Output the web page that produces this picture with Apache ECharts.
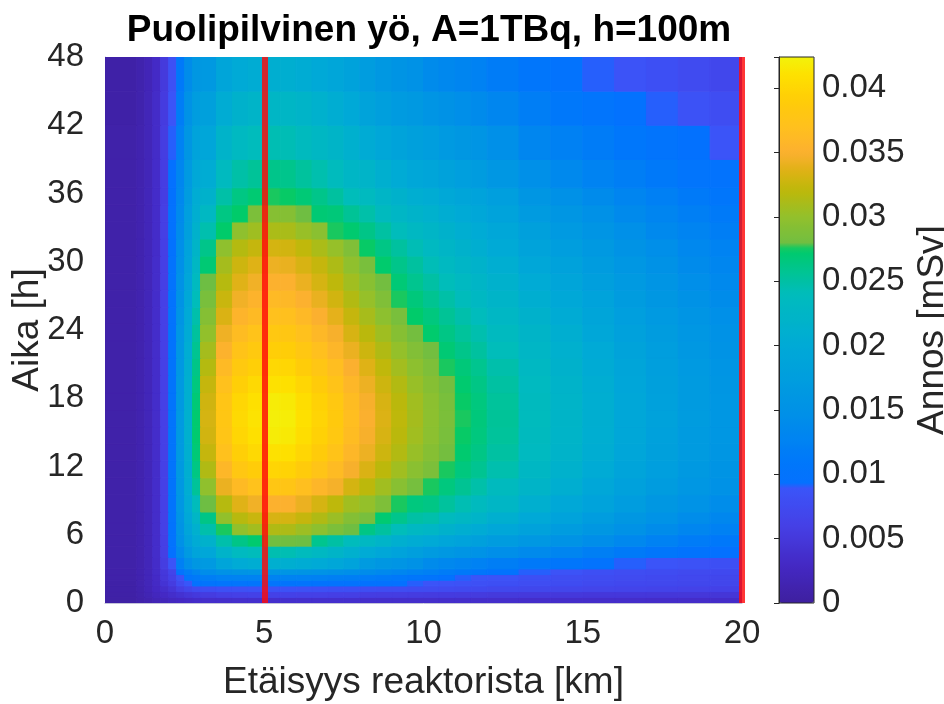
<!DOCTYPE html>
<html>
<head>
<meta charset="utf-8">
<title>Puolipilvinen yö</title>
<script src="https://cdn.jsdelivr.net/npm/echarts@6/dist/echarts.min.js"></script>
<style>
  html, body { margin: 0; padding: 0; background: #fff; }
  #main { width: 944px; height: 704px; }
</style>
</head>
<body>
<div id="main"></div>
<script>
// cell edges of the dose field
var xEdges = [0, 1, 1.25, 1.5, 1.75, 2, 2.25, 2.5, 2.75, 3, 3.5, 4, 4.5, 5, 5.5, 6, 6.5, 7, 7.5, 8,
              8.5, 9, 9.5, 10, 10.5, 11, 11.5, 12, 13, 14, 15, 16, 17, 18, 19, 20]; // km
var tEdges = [0, 0.5, 1, 1.5, 2, 2.5, 3, 4, 5, 6, 7, 8, 9.5, 11, 12.5, 14, 15.5, 17, 18.5, 20,
              21.5, 23, 24.5, 26, 27.5, 29, 30.5, 32, 33.5, 35, 36.5, 39, 42, 45, 48]; // h

// dose per cell [mSv]
// one row per time cell (from t=0 up), one value per distance cell (from x=0 out)
var doseRows = [
  [.0005,.0009,.0013,.0018,.0022,.0026,.0029,.0032,.0034,.0036,.0037,.0038,.0038,.0038,.0038,.0038,.0038,.0038,.0038,.0037,.0037,.0037,.0037,.0036,.0036,.0036,.0036,.0036,.0035,.0035,.0035,.0035,.0034,.0034,.0034],
  [.0006,.0011,.0017,.0024,.0030,.0036,.0042,.0047,.0051,.0055,.0058,.0060,.0061,.0061,.0061,.0060,.0060,.0059,.0058,.0057,.0056,.0056,.0055,.0054,.0054,.0053,.0053,.0052,.0051,.0050,.0049,.0049,.0048,.0048,.0047],
  [.0007,.0012,.0019,.0029,.0037,.0046,.0058,.0068,.0075,.0080,.0083,.0084,.0085,.0085,.0085,.0084,.0083,.0082,.0081,.0080,.0079,.0078,.0077,.0076,.0075,.0074,.0073,.0071,.0070,.0068,.0067,.0066,.0065,.0063,.0062],
  [.0007,.0013,.0020,.0031,.0044,.0055,.0075,.0090,.0097,.0101,.0103,.0104,.0104,.0103,.0102,.0101,.0100,.0099,.0098,.0097,.0096,.0094,.0091,.0089,.0087,.0085,.0083,.0081,.0078,.0076,.0074,.0072,.0071,.0070,.0068],
  [.0008,.0013,.0021,.0032,.0048,.0062,.0087,.0103,.0112,.0120,.0124,.0126,.0127,.0127,.0126,.0125,.0123,.0121,.0119,.0116,.0113,.0110,.0106,.0101,.0096,.0091,.0089,.0086,.0082,.0079,.0077,.0075,.0073,.0072,.0070],
  [.0008,.0014,.0021,.0033,.0050,.0066,.0098,.0118,.0130,.0142,.0150,.0154,.0156,.0157,.0156,.0154,.0151,.0148,.0145,.0141,.0137,.0132,.0127,.0122,.0117,.0112,.0107,.0100,.0091,.0086,.0082,.0079,.0076,.0074,.0073],
  [.0008,.0013,.0021,.0034,.0056,.0089,.0122,.0145,.0162,.0166,.0190,.0202,.0207,.0211,.0210,.0205,.0199,.0193,.0184,.0170,.0162,.0156,.0150,.0140,.0134,.0130,.0125,.0120,.0112,.0105,.0099,.0091,.0088,.0085,.0082],
  [.0008,.0013,.0021,.0035,.0058,.0094,.0138,.0167,.0188,.0193,.0220,.0234,.0240,.0245,.0244,.0238,.0231,.0223,.0213,.0201,.0193,.0185,.0178,.0169,.0163,.0157,.0152,.0145,.0138,.0129,.0121,.0113,.0106,.0100,.0094],
  [.0008,.0013,.0021,.0035,.0059,.0098,.0148,.0182,.0203,.0216,.0247,.0262,.0272,.0280,.0280,.0278,.0259,.0250,.0239,.0231,.0221,.0212,.0204,.0199,.0192,.0185,.0179,.0171,.0163,.0153,.0143,.0134,.0125,.0117,.0110],
  [.0008,.0013,.0021,.0035,.0060,.0100,.0153,.0190,.0213,.0247,.0276,.0300,.0308,.0314,.0313,.0305,.0297,.0287,.0279,.0263,.0252,.0241,.0232,.0226,.0217,.0210,.0203,.0194,.0183,.0172,.0161,.0150,.0141,.0132,.0123],
  [.0008,.0013,.0021,.0035,.0060,.0101,.0157,.0196,.0226,.0262,.0300,.0318,.0326,.0333,.0332,.0324,.0314,.0304,.0291,.0284,.0271,.0260,.0250,.0247,.0237,.0229,.0222,.0212,.0198,.0185,.0173,.0162,.0152,.0142,.0133],
  [.0008,.0013,.0021,.0035,.0060,.0101,.0160,.0201,.0240,.0278,.0317,.0337,.0345,.0352,.0351,.0342,.0332,.0321,.0307,.0301,.0288,.0276,.0266,.0263,.0253,.0244,.0236,.0226,.0211,.0197,.0185,.0173,.0162,.0151,.0142],
  [.0008,.0013,.0021,.0035,.0060,.0102,.0163,.0206,.0255,.0299,.0342,.0363,.0372,.0380,.0378,.0369,.0358,.0347,.0331,.0320,.0307,.0294,.0283,.0276,.0266,.0257,.0248,.0237,.0223,.0209,.0195,.0182,.0171,.0160,.0150],
  [.0008,.0013,.0021,.0035,.0060,.0102,.0165,.0210,.0264,.0314,.0359,.0381,.0390,.0399,.0397,.0387,.0376,.0364,.0348,.0334,.0320,.0307,.0295,.0287,.0276,.0266,.0258,.0246,.0230,.0215,.0202,.0188,.0177,.0165,.0154],
  [.0008,.0013,.0021,.0035,.0060,.0102,.0166,.0212,.0269,.0324,.0371,.0393,.0403,.0411,.0410,.0400,.0388,.0375,.0359,.0343,.0328,.0315,.0303,.0293,.0282,.0272,.0263,.0251,.0234,.0220,.0206,.0192,.0180,.0168,.0158],
  [.0008,.0013,.0021,.0035,.0060,.0102,.0166,.0213,.0272,.0330,.0377,.0400,.0410,.0419,.0417,.0407,.0395,.0382,.0365,.0348,.0333,.0319,.0307,.0296,.0285,.0275,.0266,.0254,.0237,.0222,.0208,.0194,.0182,.0170,.0160],
  [.0008,.0013,.0021,.0035,.0060,.0102,.0166,.0213,.0272,.0332,.0380,.0403,.0413,.0422,.0420,.0410,.0398,.0385,.0368,.0350,.0335,.0321,.0309,.0297,.0286,.0276,.0267,.0255,.0238,.0223,.0209,.0195,.0183,.0171,.0160],
  [.0008,.0013,.0021,.0035,.0060,.0102,.0165,.0212,.0269,.0329,.0377,.0400,.0410,.0419,.0417,.0407,.0395,.0382,.0365,.0348,.0333,.0319,.0307,.0296,.0285,.0275,.0266,.0254,.0237,.0222,.0208,.0194,.0182,.0170,.0159],
  [.0008,.0013,.0021,.0035,.0060,.0101,.0164,.0211,.0266,.0324,.0371,.0393,.0403,.0411,.0410,.0400,.0388,.0375,.0359,.0343,.0328,.0315,.0303,.0293,.0282,.0272,.0263,.0251,.0234,.0220,.0206,.0192,.0180,.0168,.0158],
  [.0008,.0013,.0021,.0035,.0060,.0101,.0163,.0209,.0262,.0316,.0362,.0384,.0393,.0402,.0400,.0390,.0379,.0367,.0350,.0336,.0322,.0308,.0297,.0288,.0276,.0268,.0259,.0247,.0232,.0217,.0203,.0190,.0178,.0166,.0156],
  [.0008,.0013,.0021,.0035,.0060,.0100,.0161,.0206,.0258,.0309,.0353,.0375,.0384,.0392,.0391,.0381,.0370,.0358,.0342,.0328,.0314,.0301,.0290,.0281,.0270,.0261,.0252,.0241,.0227,.0213,.0200,.0186,.0175,.0163,.0153],
  [.0008,.0013,.0021,.0035,.0060,.0100,.0159,.0203,.0253,.0300,.0344,.0365,.0374,.0382,.0380,.0371,.0360,.0348,.0333,.0319,.0306,.0293,.0282,.0273,.0263,.0254,.0246,.0235,.0223,.0209,.0195,.0182,.0171,.0160,.0150],
  [.0008,.0013,.0021,.0035,.0060,.0099,.0156,.0200,.0247,.0292,.0334,.0355,.0363,.0371,.0370,.0361,.0350,.0339,.0324,.0310,.0297,.0285,.0274,.0266,.0256,.0247,.0239,.0228,.0217,.0203,.0190,.0177,.0167,.0156,.0146],
  [.0008,.0013,.0021,.0035,.0060,.0099,.0153,.0196,.0241,.0285,.0326,.0345,.0354,.0362,.0360,.0351,.0341,.0330,.0315,.0302,.0289,.0276,.0267,.0258,.0249,.0240,.0232,.0222,.0209,.0196,.0184,.0172,.0161,.0150,.0141],
  [.0008,.0013,.0021,.0035,.0059,.0098,.0150,.0192,.0235,.0278,.0317,.0337,.0345,.0352,.0351,.0342,.0332,.0321,.0307,.0294,.0281,.0269,.0259,.0250,.0241,.0233,.0225,.0215,.0202,.0190,.0178,.0166,.0156,.0145,.0136],
  [.0008,.0013,.0021,.0035,.0059,.0098,.0147,.0188,.0229,.0270,.0309,.0328,.0336,.0343,.0341,.0333,.0324,.0313,.0299,.0285,.0273,.0261,.0252,.0242,.0233,.0225,.0218,.0208,.0195,.0183,.0171,.0160,.0150,.0140,.0131],
  [.0008,.0013,.0021,.0034,.0059,.0097,.0144,.0184,.0223,.0261,.0298,.0316,.0324,.0331,.0330,.0322,.0312,.0302,.0289,.0275,.0263,.0252,.0243,.0233,.0225,.0217,.0210,.0200,.0187,.0175,.0164,.0153,.0144,.0134,.0126],
  [.0008,.0013,.0021,.0034,.0058,.0097,.0141,.0180,.0216,.0246,.0274,.0298,.0306,.0312,.0311,.0303,.0295,.0276,.0272,.0262,.0251,.0240,.0231,.0224,.0216,.0208,.0202,.0193,.0179,.0167,.0157,.0146,.0137,.0128,.0120],
  [.0008,.0013,.0021,.0034,.0058,.0096,.0138,.0176,.0210,.0231,.0264,.0274,.0287,.0293,.0292,.0279,.0270,.0268,.0256,.0248,.0237,.0227,.0219,.0214,.0206,.0199,.0193,.0184,.0169,.0158,.0148,.0138,.0130,.0121,.0114],
  [.0008,.0013,.0021,.0034,.0057,.0095,.0135,.0172,.0204,.0217,.0249,.0264,.0271,.0276,.0275,.0269,.0261,.0252,.0241,.0235,.0225,.0216,.0208,.0205,.0197,.0190,.0184,.0176,.0158,.0148,.0139,.0130,.0122,.0114,.0106],
  [.0008,.0013,.0020,.0034,.0057,.0094,.0131,.0166,.0196,.0205,.0235,.0249,.0255,.0261,.0260,.0253,.0246,.0238,.0227,.0221,.0211,.0202,.0195,.0190,.0183,.0177,.0171,.0160,.0147,.0136,.0127,.0119,.0112,.0104,.0098],
  [.0008,.0013,.0020,.0033,.0056,.0091,.0125,.0158,.0185,.0192,.0220,.0233,.0239,.0244,.0243,.0237,.0230,.0223,.0213,.0203,.0195,.0186,.0180,.0174,.0167,.0161,.0156,.0146,.0131,.0123,.0116,.0108,.0101,.0095,.0088],
  [.0007,.0012,.0020,.0033,.0054,.0088,.0118,.0150,.0173,.0179,.0204,.0217,.0222,.0227,.0226,.0221,.0214,.0207,.0198,.0186,.0178,.0170,.0164,.0156,.0150,.0145,.0140,.0131,.0120,.0110,.0103,.0097,.0091,.0085,.0079],
  [.0007,.0012,.0019,.0032,.0052,.0084,.0111,.0141,.0161,.0165,.0189,.0200,.0205,.0210,.0209,.0204,.0198,.0191,.0183,.0173,.0163,.0155,.0149,.0140,.0134,.0130,.0125,.0117,.0107,.0098,.0091,.0086,.0081,.0075,.0070]
];

var markerKm = [5, 20];              // red vertical lines
var xTicks = [0, 5, 10, 15, 20];
var yTicks = [0, 6, 12, 18, 24, 30, 36, 42, 48];
var cbTicks = [0, 0.005, 0.01, 0.015, 0.02, 0.025, 0.03, 0.035, 0.04];
var doseMax = 0.04244;               // top of the colour bar

// parula-like map, [dose, colour]; the jumps at 0.0092 and 0.0277 are in the original bar
var cmapStops = [
  [0.0000, '#3e1f9f'],
  [0.0030, '#4429c4'],
  [0.0060, '#4540e6'],
  [0.0091, '#3a56fa'],
  [0.0092, '#0470ff'],
  [0.0110, '#0078fa'],
  [0.0150, '#0092e6'],
  [0.0200, '#00aad6'],
  [0.0240, '#00bcbc'],
  [0.0276, '#00cc66'],
  [0.0277, '#6cbe44'],
  [0.0300, '#92c02c'],
  [0.0320, '#bcb80a'],
  [0.0335, '#dcb214'],
  [0.0350, '#fcb030'],
  [0.0370, '#ffc01e'],
  [0.0390, '#ffcc08'],
  [0.0410, '#fee000'],
  [0.04244, '#f2f20a']
];

function hexToRgb(h) {
  return [parseInt(h.substr(1, 2), 16), parseInt(h.substr(3, 2), 16), parseInt(h.substr(5, 2), 16)];
}

// sample the stops evenly so that visualMap can use them
function buildColormap(stops, vmax, n) {
  var out = [];
  for (var k = 0; k < n; k++) {
    var v = vmax * k / (n - 1);
    var j = 0;
    while (j < stops.length - 2 && v > stops[j + 1][0]) j++;
    var a = stops[j], b = stops[j + 1];
    var f = Math.min(1, Math.max(0, (v - a[0]) / (b[0] - a[0])));
    var ca = hexToRgb(a[1]), cb = hexToRgb(b[1]);
    var c = [0, 1, 2].map(function (i) { return Math.round(ca[i] + (cb[i] - ca[i]) * f); });
    out.push('rgb(' + c.join(',') + ')');
  }
  return out;
}

var cells = [];
for (var r = 0; r < doseRows.length; r++) {
  for (var c = 0; c < doseRows[r].length; c++) {
    cells.push([xEdges[c], xEdges[c + 1], tEdges[r], tEdges[r + 1], doseRows[r][c]]);
  }
}

function renderCell(params, api) {
  var p0 = api.coord([api.value(0), api.value(2)]);
  var p1 = api.coord([api.value(1), api.value(3)]);
  var col = api.visual('color');
  return {
    type: 'rect',
    shape: { x: p0[0], y: p1[1], width: p1[0] - p0[0], height: p0[1] - p1[1] },
    style: { fill: col, stroke: col, lineWidth: 1 }
  };
}

var FONT = 'Liberation Sans';
var TXT = '#262626';

var myChart = echarts.init(document.getElementById('main'));

var option = {
  backgroundColor: '#ffffff',
  animation: false,
  textStyle: { fontFamily: FONT },
  title: {
    text: 'Puolipilvinen yö, A=1TBq, h=100m',
    left: 424,
    top: 7,
    textAlign: 'center',
    textStyle: { fontFamily: FONT, fontSize: 37, fontWeight: 'bold', color: '#000' }
  },
  grid: [
    { left: 105, top: 57, width: 637, height: 546, outerBoundsMode: 'none' },
    {
      left: 779, top: 57, width: 35, height: 546, outerBoundsMode: 'none',
      show: true, borderColor: TXT, borderWidth: 1, backgroundColor: 'transparent', z: 10
    }
  ],
  xAxis: [
    {
      gridIndex: 0, type: 'value',
      min: xTicks[0], max: xTicks[xTicks.length - 1], interval: xTicks[1] - xTicks[0],
      name: 'Etäisyys reaktorista [km]', nameLocation: 'middle', nameGap: 61, nameMoveOverlap: false,
      nameTextStyle: { fontFamily: FONT, fontSize: 37, color: TXT },
      axisLine: { show: true, lineStyle: { color: '#c4c4d8', width: 1 } },
      axisTick: { show: false },
      splitLine: { show: false },
      axisLabel: { fontFamily: FONT, fontSize: 33, color: TXT, margin: 14 }
    },
    { gridIndex: 1, type: 'value', min: 0, max: 1, show: false }
  ],
  yAxis: [
    {
      gridIndex: 0, type: 'value',
      min: yTicks[0], max: yTicks[yTicks.length - 1], interval: yTicks[1] - yTicks[0],
      name: 'Aika [h]', nameLocation: 'middle', nameRotate: 90, nameGap: 59, nameMoveOverlap: false,
      nameTextStyle: { fontFamily: FONT, fontSize: 37, color: TXT },
      axisLine: { show: true, lineStyle: { color: '#c4c4d8', width: 1 } },
      axisTick: { show: false },
      splitLine: { show: false },
      axisLabel: { fontFamily: FONT, fontSize: 33, color: TXT, margin: 21 }
    },
    {
      gridIndex: 1, type: 'value', position: 'right',
      min: 0, max: doseMax, interval: cbTicks[1] - cbTicks[0], z: 10,
      name: 'Annos [mSv]', nameLocation: 'middle', nameRotate: 90, nameGap: 100, nameMoveOverlap: false,
      nameTextStyle: { fontFamily: FONT, fontSize: 37, color: TXT },
      axisLine: { show: true, lineStyle: { color: TXT, width: 1 } },
      axisTick: { show: true, inside: true, length: 5, lineStyle: { color: TXT, width: 1 } },
      splitLine: { show: false },
      axisLabel: {
        fontFamily: FONT, fontSize: 33, color: TXT, margin: 8,
        formatter: function (v) {
          if (v > cbTicks[cbTicks.length - 1] + 1e-6) return '';
          return String(+v.toFixed(4));
        }
      }
    }
  ],
  visualMap: {
    type: 'continuous',
    seriesIndex: 0,
    dimension: 4,
    min: 0,
    max: doseMax,
    show: true,
    left: 779,
    top: 57,
    itemWidth: 35,
    itemHeight: 546,
    padding: 0,
    calculable: false,
    hoverLink: false,
    z: 4,
    inRange: { color: buildColormap(cmapStops, doseMax, 256) }
  },
  series: [
    {
      type: 'custom',
      xAxisIndex: 0,
      yAxisIndex: 0,
      renderItem: renderCell,
      encode: { x: [0, 1], y: [2, 3] },
      data: cells,
      clip: true,
      silent: true,
      z: 2
    },
    {
      type: 'line',
      xAxisIndex: 0,
      yAxisIndex: 0,
      data: [],
      symbol: 'none',
      silent: true,
      clip: false,
      z: 5,
      markLine: {
        silent: true,
        symbol: ['none', 'none'],
        label: { show: false },
        lineStyle: { color: 'rgba(255,10,10,0.82)', width: 6, type: 'solid' },
        data: markerKm.map(function (k) { return { xAxis: k }; })
      }
    }
  ]
};

myChart.setOption(option, true);
</script>
</body>
</html>
